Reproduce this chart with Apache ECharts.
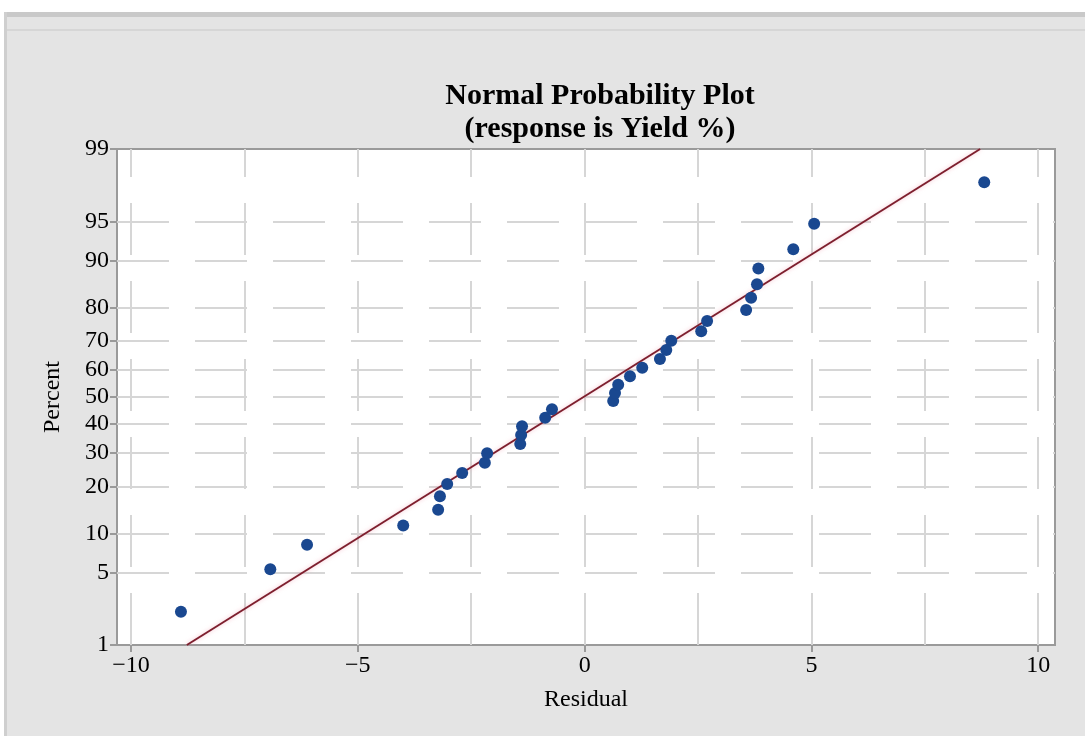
<!DOCTYPE html>
<html>
<head>
<meta charset="utf-8">
<script src="https://cdn.jsdelivr.net/npm/echarts@6/dist/echarts.min.js"></script>
<style>
html,body{margin:0;padding:0;background:#ffffff;}
#chart{width:1085px;height:736px;}
</style>
</head>
<body>
<div id="chart"></div>
<script>
// ---- data ----
const residuals = [-8.90, -6.93, -6.12, -4.00, -3.23, -3.19, -3.03, -2.70, -2.20, -2.15,
                   -1.42, -1.40, -1.38, -0.87, -0.72, 0.63, 0.67, 0.74, 1.00, 1.27,
                   1.66, 1.80, 1.91, 2.57, 2.70, 3.56, 3.67, 3.80, 3.83, 4.60,
                   5.06, 8.81];
const percents = [2.2, 5.3, 8.3, 11.4, 14.5, 17.6, 20.7, 23.8, 26.9, 29.9,
                  33.0, 36.1, 39.2, 42.3, 45.4, 48.5, 51.5, 54.6, 57.7, 60.8,
                  63.9, 67.0, 70.1, 73.1, 76.2, 79.3, 82.4, 85.5, 88.6, 91.7,
                  94.8, 97.8];
const fitResiduals = [-8.77, 8.72];
const fitPercents = [1, 99];
const percentTicks = [1, 5, 10, 20, 30, 40, 50, 60, 70, 80, 90, 95, 99];
const residualTicks = [-10, -5, 0, 5, 10];
const residualGrid = [-10, -7.5, -5, -2.5, 0, 2.5, 5, 7.5, 10];
const titleLines = ['Normal Probability Plot', '(response is Yield %)'];

// inverse normal CDF (Acklam) for the probability scale
function normInv(p) {
  const a = [-3.969683028665376e+01, 2.209460984245205e+02, -2.759285104469687e+02, 1.383577518672690e+02, -3.066479806614716e+01, 2.506628277459239e+00];
  const b = [-5.447609879822406e+01, 1.615858368580409e+02, -1.556989798598866e+02, 6.680131188771972e+01, -1.328068155288572e+01];
  const c = [-7.784894002430293e-03, -3.223964580411365e-01, -2.400758277161838e+00, -2.549671010229838e+00, 4.374664141464968e+00, 2.938163982698783e+00];
  const d = [7.784695709041462e-03, 3.224671290700398e-01, 2.445134137142996e+00, 3.754408661907416e+00];
  const plow = 0.02425, phigh = 1 - plow;
  let q, r;
  if (p < plow) {
    q = Math.sqrt(-2 * Math.log(p));
    return (((((c[0]*q+c[1])*q+c[2])*q+c[3])*q+c[4])*q+c[5]) / ((((d[0]*q+d[1])*q+d[2])*q+d[3])*q+1);
  } else if (p <= phigh) {
    q = p - 0.5; r = q * q;
    return (((((a[0]*r+a[1])*r+a[2])*r+a[3])*r+a[4])*r+a[5])*q / (((((b[0]*r+b[1])*r+b[2])*r+b[3])*r+b[4])*r+1);
  } else {
    q = Math.sqrt(-2 * Math.log(1 - p));
    return -(((((c[0]*q+c[1])*q+c[2])*q+c[3])*q+c[4])*q+c[5]) / ((((d[0]*q+d[1])*q+d[2])*q+d[3])*q+1);
  }
}
const zOf = pc => normInv(pc / 100);
const zTicks = percentTicks.map(zOf);
const yMin = zTicks[0], yMax = zTicks[zTicks.length - 1];
const xMin = -10.31, xMax = 10.37;

const serif = '"Liberation Serif","Times New Roman",serif';
const gridDash = [52, 26];
const gridColor = '#d6d6d6';

const hLines = zTicks.slice(1, -1).map(z => [{coord: [xMin, z]}, {coord: [xMax, z]}]);
const vLines = residualGrid.map(x => [{coord: [x === 0 ? 1e-9 : x, yMin]}, {coord: [x === 0 ? 1e-9 : x, yMax]}]);

const chart = echarts.init(document.getElementById('chart'), null, {renderer: 'canvas'});
chart.setOption({
  backgroundColor: '#ffffff',
  animation: false,
  graphic: [
    {type: 'rect', z: -10, shape: {x: 4, y: 12, width: 1081, height: 724}, style: {fill: '#e4e4e4'}},
    {type: 'rect', z: -9, shape: {x: 4, y: 12, width: 1081, height: 5}, style: {fill: '#c9c9c9'}},
    {type: 'rect', z: -9, shape: {x: 4, y: 29, width: 1081, height: 2}, style: {fill: '#d6d6d6'}},
    {type: 'rect', z: -9, shape: {x: 4, y: 12, width: 3, height: 724}, style: {fill: '#cfcfcf'}},
    {type: 'text', x: 600, y: 96, style: {text: titleLines[0], font: 'bold 30px ' + serif, fill: '#000', textAlign: 'center', textVerticalAlign: 'middle'}},
    {type: 'text', x: 600, y: 129, style: {text: titleLines[1], font: 'bold 30px ' + serif, fill: '#000', textAlign: 'center', textVerticalAlign: 'middle'}}
  ],
  grid: {
    left: 117, right: 30, top: 149, bottom: 91,
    show: true, backgroundColor: '#ffffff', borderColor: '#9a9a9a', borderWidth: 2
  },
  xAxis: {
    type: 'value', min: xMin, max: xMax,
    name: 'Residual', nameLocation: 'middle', nameGap: 43,
    nameTextStyle: {fontFamily: serif, fontSize: 24, color: '#000'},
    axisLine: {show: false, onZero: false},
    axisTick: {show: true, inside: false, length: 7, customValues: residualTicks, lineStyle: {color: '#9a9a9a', width: 2}},
    axisLabel: {customValues: residualTicks, margin: 9, fontFamily: serif, fontSize: 24, color: '#000',
      formatter: v => (v < 0 ? '\u2212' + Math.abs(v) : String(v))},
    splitLine: {show: false}
  },
  yAxis: {
    type: 'value', min: yMin, max: yMax,
    name: 'Percent', nameLocation: 'middle', nameGap: 52, nameRotate: 90,
    nameTextStyle: {fontFamily: serif, fontSize: 24, color: '#000'},
    axisLine: {show: false, onZero: false},
    axisTick: {show: true, inside: false, length: 7, customValues: zTicks, lineStyle: {color: '#9a9a9a', width: 2}},
    axisLabel: {customValues: zTicks, margin: 8, fontFamily: serif, fontSize: 24, color: '#000',
      formatter: v => {
        let best = 0;
        zTicks.forEach((z, i) => { if (Math.abs(z - v) < Math.abs(zTicks[best] - v)) best = i; });
        return String(percentTicks[best]);
      }},
    splitLine: {show: false}
  },
  series: [
    {
      type: 'line', data: [], z: 1, silent: true,
      markLine: {
        silent: true, z: 1, symbol: 'none', label: {show: false}, animation: false,
        lineStyle: {color: gridColor, width: 2, type: gridDash},
        emphasis: {disabled: true},
        data: hLines.concat(vLines)
      }
    },
    {
      type: 'line', z: 3, silent: true, symbol: 'none',
      lineStyle: {color: '#7e1f2e', width: 2, shadowColor: 'rgba(240,150,170,0.6)', shadowBlur: 4},
      data: fitResiduals.map((r, i) => [r, zOf(fitPercents[i])])
    },
    {
      type: 'scatter', z: 4, symbol: 'circle', symbolSize: 12,
      itemStyle: {color: '#1a4890', opacity: 1},
      data: residuals.map((r, i) => [r, zOf(percents[i])])
    }
  ]
});
</script>
</body>
</html>
